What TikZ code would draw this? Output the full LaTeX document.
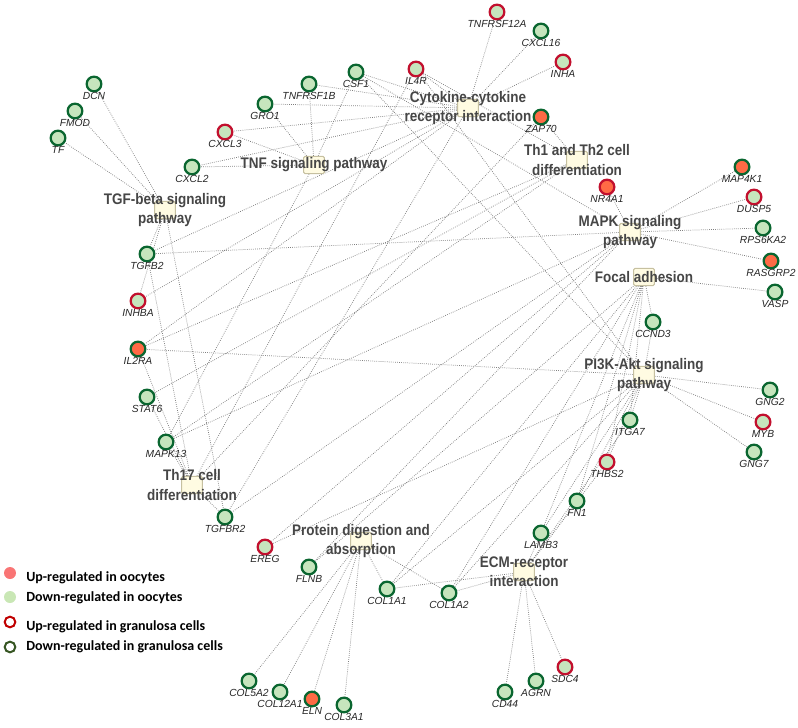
\documentclass[tikz,border=0pt]{standalone}
\usepackage{fontspec}
\setmainfont{Liberation Sans}
\newfontfamily\hubfont{Liberation Sans}[FakeStretch=0.88]
\newfontfamily\legendfont{Carlito}
\definecolor{leafgreen}{HTML}{C6E5BD}
\definecolor{tomatofill}{HTML}{FF6A45}
\definecolor{ringgreen}{HTML}{0A6630}
\definecolor{ringred}{HTML}{C2102E}
\definecolor{hubfill}{HTML}{FFFBE2}
\definecolor{hubline}{HTML}{C6C0A0}
\definecolor{hubtext}{HTML}{464646}
\definecolor{genetext}{HTML}{262626}
\definecolor{edgegray}{HTML}{7E7E7E}
\definecolor{legendred}{HTML}{F97575}
\definecolor{legendgreen}{HTML}{C9E7B5}
\definecolor{legendringred}{HTML}{C00000}
\definecolor{legendringgreen}{HTML}{375623}
\pgfdeclarelayer{bg}
\pgfsetlayers{bg,main}
\tikzset{
  gene/.style={circle, minimum size=11pt, inner sep=0pt, line width=1.7pt, fill=leafgreen, draw=ringgreen, label distance=4.3pt},
  upgc/.style={draw=ringred},
  upoo/.style={fill=tomatofill},
  hub/.style={rectangle, rounded corners=1pt, minimum width=15.5pt, minimum height=13pt, fill=hubfill, draw=hubline, line width=0.8pt},
  hubname/.style={font=\hubfont\bfseries\fontsize{11.5}{14.5}\selectfont, text=hubtext, align=center, inner sep=0pt},
  link/.style={draw=edgegray, line width=0.55pt, dash pattern=on 0.55pt off 1pt},
  every label/.style={font=\itshape\fontsize{7.7}{9}\selectfont, text=genetext, inner sep=0pt},
  legdot/.style={circle, minimum size=9pt, inner sep=0pt},
  legring/.style={circle, minimum size=8pt, inner sep=0pt, fill=white, line width=1.5pt},
  legtext/.style={font=\legendfont\bfseries\fontsize{10.5}{12}\selectfont, text=black, anchor=base west, inner sep=0pt}
}
\begin{document}
\begin{tikzpicture}[x=0.75pt, y=-0.75pt]
\useasboundingbox (0,0) rectangle (798,727);

\node[hub] (cyto) at (468,108) {};
\node[hub] (tnf) at (314,165) {};
\node[hub] (tgfb) at (165,210) {};
\node[hub] (thot) at (577,160) {};
\node[hub] (mapk) at (630,232) {};
\node[hub] (focal) at (644,277) {};
\node[hub] (pik) at (644,375) {};
\node[hub] (thse) at (192,485) {};
\node[hub] (prot) at (361,541) {};
\node[hub] (ecm) at (524,572) {};

\node[hubname] (cytoname) at (cyto) {Cytokine-cytokine\\receptor interaction};
\node[hubname] (tnfname) at (tnf) {TNF signaling pathway};
\node[hubname] (tgfbname) at (tgfb) {TGF-beta signaling\\pathway};
\node[hubname] (thotname) at (thot) {Th1 and Th2 cell\\differentiation};
\node[hubname] (mapkname) at (mapk) {MAPK signaling\\pathway};
\node[hubname] (focalname) at (focal) {Focal adhesion};
\node[hubname] (pikname) at (pik) {PI3K-Akt signaling\\pathway};
\node[hubname] (thsename) at (thse) {Th17 cell\\differentiation};
\node[hubname] (protname) at (prot) {Protein digestion and\\absorption};
\node[hubname] (ecmname) at (ecm) {ECM-receptor\\interaction};

\node[gene, label=below:DCN] (dcn) at (94,84) {};
\node[gene, label=below:FMOD] (fmod) at (75,111) {};
\node[gene, label=below:TF] (tf) at (58,138) {};
\node[gene, label=below:GRO1] (gro) at (265,104) {};
\node[gene, label=below:TNFRSF1B] (tnfrsfb) at (309,84) {};
\node[gene, label=below:CSF1] (csf) at (356,72) {};
\node[gene, upgc, label=below:CXCL3] (cxclthree) at (225,132) {};
\node[gene, label=below:CXCL2] (cxcltwo) at (192,167) {};
\node[gene, upgc, label=below:IL4R] (ilfourr) at (416,69) {};
\node[gene, upgc, label=below:TNFRSF12A] (tnfrsfa) at (497,12) {};
\node[gene, label=below:CXCL16] (cxclsixteen) at (541,31) {};
\node[gene, upgc, label=below:INHA] (inha) at (563,62) {};
\node[gene, upoo, label=below:ZAP70] (zap) at (541,117) {};
\node[gene, upoo, upgc, label=below:NR4A1] (nrfour) at (607,187) {};
\node[gene, upoo, label=below:MAP4K1] (mapfour) at (742,167) {};
\node[gene, upgc, label=below:DUSP5] (dusp) at (754,197) {};
\node[gene, label=below:RPS6KA2] (rps) at (763,228) {};
\node[gene, upoo, label=below:RASGRP2] (rasgrp) at (771,261) {};
\node[gene, label=below:VASP] (vasp) at (775,292) {};
\node[gene, label=below:CCND3] (ccnd) at (653,322) {};
\node[gene, label=below:GNG2] (gngtwo) at (770,390) {};
\node[gene, upgc, label=below:MYB] (myb) at (763,422) {};
\node[gene, label=below:GNG7] (gngseven) at (754,452) {};
\node[gene, label=below:ITGA7] (itga) at (630,420) {};
\node[gene, upgc, label=below:THBS2] (thbs) at (607,462) {};
\node[gene, label=below:FN1] (fn) at (577,501) {};
\node[gene, label=below:LAMB3] (lamb) at (541,533) {};
\node[gene, label=below:COL1A2] (colatwo) at (449,593) {};
\node[gene, label=below:COL1A1] (colaone) at (387,589) {};
\node[gene, upgc, label=below:SDC4] (sdc) at (565,667) {};
\node[gene, label=below:AGRN] (agrn) at (536,681) {};
\node[gene, label=below:CD44] (cd) at (505,692) {};
\node[gene, label=below:COL5A2] (colfive) at (249,681) {};
\node[gene, label=below:COL12A1] (coltwelve) at (280,692) {};
\node[gene, upoo, label=below:ELN] (eln) at (312,699) {};
\node[gene, label=below:COL3A1] (colthree) at (344,705) {};
\node[gene, label=below:FLNB] (flnb) at (309,567) {};
\node[gene, upgc, label=below:EREG] (ereg) at (265,547) {};
\node[gene, label=below:TGFBR2] (tgfbrtwo) at (225,517) {};
\node[gene, label=below:TGFB2] (tgfbtwo) at (147,254) {};
\node[gene, upgc, label=below:INHBA] (inhba) at (138,301) {};
\node[gene, upoo, label=below:IL2RA] (iltwora) at (138,349) {};
\node[gene, label=below:STAT6] (stat) at (147,397) {};
\node[gene, label=below:MAPK13] (mapkthirteen) at (166,442) {};

\begin{pgfonlayer}{bg}
\draw[link] (cyto) -- (tnfrsfa) (cyto) -- (cxclsixteen) (cyto) -- (inha) (cyto) -- (ilfourr)
  (cyto) -- (csf) (cyto) -- (tnfrsfb) (cyto) -- (gro) (cyto) -- (cxclthree) (cyto) -- (cxcltwo)
  (cyto) -- (tgfbtwo) (cyto) -- (inhba) (cyto) -- (iltwora) (cyto) -- (tgfbrtwo);
\draw[link] (tnf) -- (tnfrsfb) (tnf) -- (csf) (tnf) -- (gro) (tnf) -- (cxclthree) (tnf) -- (cxcltwo)
  (tnf) -- (mapkthirteen);
\draw[link] (tgfb) -- (dcn) (tgfb) -- (fmod) (tgfb) -- (tf) (tgfb) -- (tgfbtwo) (tgfb) -- (inhba)
  (tgfb) -- (tgfbrtwo);
\draw[link] (thot) -- (zap) (thot) -- (ilfourr) (thot) -- (iltwora) (thot) -- (stat) (thot) -- (mapkthirteen);
\draw[link] (mapk) -- (nrfour) (mapk) -- (mapfour) (mapk) -- (dusp) (mapk) -- (rps) (mapk) -- (rasgrp)
  (mapk) -- (csf) (mapk) -- (tgfbtwo) (mapk) -- (tgfbrtwo) (mapk) -- (mapkthirteen) (mapk) -- (ereg)
  (mapk) -- (flnb);
\draw[link] (focal) -- (vasp) (focal) -- (ccnd) (focal) -- (itga) (focal) -- (thbs) (focal) -- (fn)
  (focal) -- (lamb) (focal) -- (colaone) (focal) -- (colatwo) (focal) -- (flnb);
\draw[link] (pik) -- (ccnd) (pik) -- (gngtwo) (pik) -- (myb) (pik) -- (gngseven) (pik) -- (itga)
  (pik) -- (thbs) (pik) -- (fn) (pik) -- (lamb) (pik) -- (colaone) (pik) -- (colatwo)
  (pik) -- (iltwora) (pik) -- (ilfourr) (pik) -- (csf) (pik) -- (ereg);
\draw[link] (thse) -- (iltwora) (thse) -- (ilfourr) (thse) -- (stat) (thse) -- (mapkthirteen)
  (thse) -- (tgfbtwo) (thse) -- (tgfbrtwo) (thse) -- (zap);
\draw[link] (prot) -- (colaone) (prot) -- (colatwo) (prot) -- (colfive) (prot) -- (coltwelve)
  (prot) -- (eln) (prot) -- (colthree);
\draw[link] (ecm) -- (cd) (ecm) -- (agrn) (ecm) -- (sdc) (ecm) -- (lamb) (ecm) -- (fn) (ecm) -- (thbs)
  (ecm) -- (itga) (ecm) -- (colaone) (ecm) -- (colatwo);
\end{pgfonlayer}

\node[legdot, fill=legendred] (legupoo) at (10,573) {};
\node[legtext] (legupootext) at (26,581) {Up-regulated in oocytes};
\node[legdot, fill=legendgreen] (legdownoo) at (10,597) {};
\node[legtext] (legdownootext) at (26,601) {Down-regulated in oocytes};
\node[legring, draw=legendringred] (legupgc) at (10,622) {};
\node[legtext] (legupgctext) at (26,630) {Up-regulated in granulosa cells};
\node[legring, draw=legendringgreen] (legdowngc) at (10,647) {};
\node[legtext] (legdowngctext) at (26,650) {Down-regulated in granulosa cells};
\end{tikzpicture}
\end{document}
